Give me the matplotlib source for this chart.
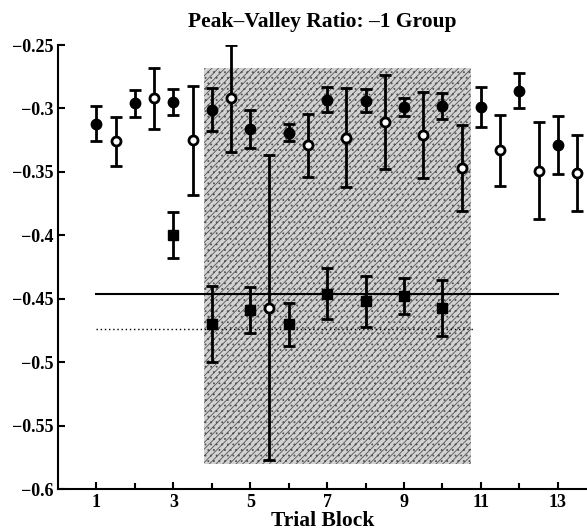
import matplotlib.pyplot as plt
import numpy as np

# filled circles (blocks 1..13)
filled_x = [1, 2, 3, 4, 5, 6, 7, 8, 9, 10, 11, 12, 13]
filled_y = [-0.312, -0.296, -0.295, -0.301, -0.316, -0.319, -0.293, -0.294, -0.299, -0.298, -0.299, -0.286, -0.329]
filled_err = [0.014, 0.0105, 0.0105, 0.017, 0.015, 0.007, 0.01, 0.009, 0.007, 0.01, 0.016, 0.014, 0.023]

# open circles (half blocks)
open_x = [1.5, 2.5, 3.5, 4.5, 5.5, 6.5, 7.5, 8.5, 9.5, 10.5, 11.5, 12.5, 13.5]
open_y = [-0.326, -0.292, -0.325, -0.292, -0.457, -0.329, -0.323, -0.311, -0.321, -0.347, -0.333, -0.349, -0.351]
open_err = [0.019, 0.024, 0.043, 0.042, 0.12, 0.025, 0.039, 0.037, 0.034, 0.034, 0.028, 0.038, 0.03]

# filled squares
sq_x = [3, 4, 5, 6, 7, 8, 9, 10]
sq_y = [-0.400, -0.470, -0.459, -0.470, -0.446, -0.452, -0.448, -0.457]
sq_err = [0.018, 0.03, 0.018, 0.017, 0.02, 0.02, 0.014, 0.022]

solid_level = -0.446
dotted_level = -0.474
shade_x = (3.79, 10.73)
shade_y = (-0.580, -0.268)

plt.rcParams['font.family'] = ['Liberation Serif', 'DejaVu Serif']
plt.rcParams['font.weight'] = 'bold'
plt.rcParams['hatch.linewidth'] = 0.6

fig = plt.figure(figsize=(5.87, 5.32), dpi=100)
ax = fig.add_axes([58 / 587, 43 / 532, 1 - 58 / 587, (489 - 45) / 532])

ax.fill_between(shade_x, shade_y[0], shade_y[1], facecolor='#d2d2d2',
                edgecolor='#555555', hatch='/////...', linewidth=0, zorder=0)

ax.plot([1, 13], [solid_level, solid_level], color='black', lw=1.5, zorder=1)
ax.plot([1, 10.8], [dotted_level, dotted_level], color='black', lw=1.0,
        ls=(0, (1, 2)), zorder=1)

ax.errorbar(filled_x, filled_y, yerr=filled_err, fmt='o', color='black',
            ms=7.5, elinewidth=2, capsize=4, capthick=2, zorder=3)
ax.errorbar(open_x, open_y, yerr=open_err, fmt='o', color='black', mfc='white',
            mec='black', mew=2, ms=6.5, elinewidth=2, capsize=4, capthick=2, zorder=3)
ax.errorbar(sq_x, sq_y, yerr=sq_err, fmt='s', color='black',
            ms=6.5, elinewidth=2, capsize=4, capthick=2, zorder=3)

ax.set_xlim(0, 13.76)
ax.set_ylim(-0.6, -0.25)
ax.set_xticks([1, 3, 5, 7, 9, 11, 13])
ax.set_xticks([2, 4, 6, 8, 10, 12], minor=True)
ax.set_yticks([-0.6, -0.55, -0.5, -0.45, -0.4, -0.35, -0.3, -0.25])
ax.set_yticklabels(['\u22120.6', '\u22120.55', '\u22120.5', '\u22120.45',
                    '\u22120.4', '\u22120.35', '\u22120.3', '\u22120.25'])
ax.tick_params(direction='in', labelsize=13, width=1.5, length=5)
ax.tick_params(which='minor', direction='in', width=1.5, length=4)
for lab in ax.get_xticklabels() + ax.get_yticklabels():
    lab.set_fontweight('bold')

ax.spines['top'].set_visible(False)
ax.spines['right'].set_visible(False)
ax.spines['left'].set_linewidth(1.5)
ax.spines['bottom'].set_linewidth(1.5)
ax.patch.set_alpha(0)

ax.set_title('Peak\u2013Valley Ratio: \u20131 Group', fontsize=15.5, fontweight='bold', pad=13)
ax.set_xlabel('Trial Block', fontsize=15.5, fontweight='bold', labelpad=0)

fig.savefig('out.png', dpi=100)
